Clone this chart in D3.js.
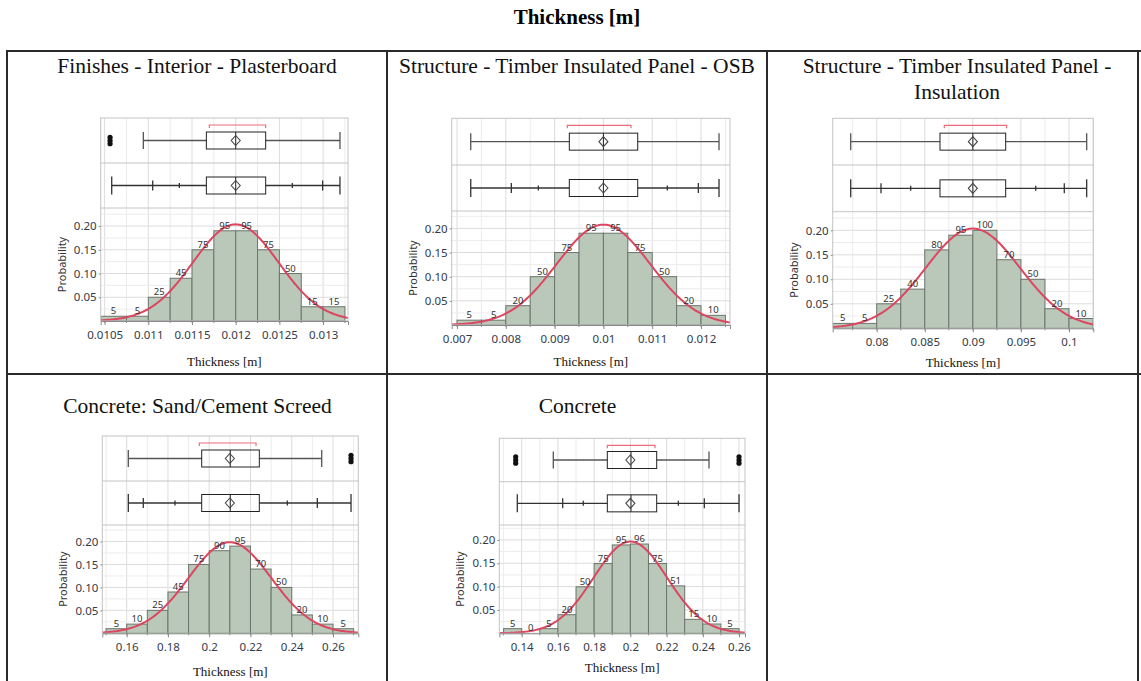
<!DOCTYPE html>
<html>
<head>
<meta charset="utf-8">
<script src="https://cdn.jsdelivr.net/npm/d3@7"></script>
<style>
  body { margin: 0; background: #fff; }
  svg { display: block; }
</style>
</head>
<body>
<div id="chart"></div>
<script>
/* Define svg-size. */
const width = 1141
const height = 681

/* Texts. */
const mainTitle = "Thickness [m]"
const panelTitles = [
  ["Finishes - Interior - Plasterboard"],
  ["Structure - Timber Insulated Panel - OSB"],
  ["Structure - Timber Insulated Panel -", "Insulation"],
  ["Concrete: Sand/Cement Screed"],
  ["Concrete"]
]
const xTitle = "Thickness [m]"
const yTitle = "Probability"

/* Histogram bins: edges and counts. */
const binEdges = [
  [0.01045, 0.01075, 0.011, 0.01125, 0.0115, 0.01175, 0.012, 0.01225, 0.0125, 0.01275, 0.013, 0.01325],
  [0.007, 0.0075, 0.008, 0.0085, 0.009, 0.0095, 0.01, 0.0105, 0.011, 0.0115, 0.012, 0.0125],
  [0.0754, 0.0775, 0.08, 0.0825, 0.085, 0.0875, 0.09, 0.0925, 0.095, 0.0975, 0.1, 0.1025],
  [0.15, 0.16, 0.17, 0.18, 0.19, 0.2, 0.21, 0.22, 0.23, 0.24, 0.25, 0.26, 0.27],
  [0.13, 0.14, 0.15, 0.16, 0.17, 0.18, 0.19, 0.2, 0.21, 0.22, 0.23, 0.24, 0.25, 0.26]
]
const binCounts = [
  [5, 5, 25, 45, 75, 95, 95, 75, 50, 15, 15],
  [5, 5, 20, 50, 75, 95, 95, 75, 50, 20, 10],
  [5, 5, 25, 40, 80, 95, 100, 70, 50, 20, 10],
  [5, 10, 25, 45, 75, 90, 95, 70, 50, 20, 10, 5],
  [5, 0, 5, 20, 50, 75, 95, 96, 75, 51, 15, 10, 5]
]

/* Normal fit per panel. */
const fitMean = [0.012, 0.01, 0.09, 0.21, 0.2]
const fitSd = [0.00049, 0.00096, 0.0049, 0.0201, 0.0203]
const binWidth = [0.00025, 0.0005, 0.0025, 0.01, 0.01]

/* Outlier box plot. */
const whiskerLow = [0.010943, 0.007281, 0.077296, 0.16078, 0.15745]
const quart1 = [0.011664, 0.009301, 0.086583, 0.19635, 0.18727]
const medians = [0.012, 0.01, 0.09, 0.2102, 0.20035]
const quart3 = [0.012343, 0.010703, 0.093416, 0.22428, 0.21454]
const whiskerHigh = [0.013193, 0.012369, 0.10184, 0.25453, 0.24342]
const outliers = [[0.010562], [], [], [0.26873], [0.13669, 0.26]]
const shortestHalf = [[0.011698, 0.012343], [0.00926, 0.010566], [0.08703, 0.09352], [0.19519, 0.22268], [0.18727, 0.21361]]

/* Quantile box plot: min, 2.5%, 10%, 90%, 97.5%, max. */
const quantiles = [
  [0.010581, 0.01105, 0.011355, 0.012648, 0.012995, 0.013193],
  [0.007281, 0.008113, 0.008666, 0.011309, 0.011945, 0.012369],
  [0.077296, 0.080447, 0.083536, 0.096537, 0.099511, 0.10184],
  [0.16078, 0.16805, 0.18341, 0.23785, 0.25239, 0.26873],
  [0.13757, 0.16264, 0.17401, 0.22647, 0.24083, 0.26]
]

/* Axes. */
const xDomains = [[0.010455, 0.013285], [0.006891, 0.012594], [0.075424, 0.102528], [0.14817, 0.27226], [0.12763, 0.2633]]
const xTickLabels = [
  ["0.0105", "0.011", "0.0115", "0.012", "0.0125", "0.013"],
  ["0.007", "0.008", "0.009", "0.01", "0.011", "0.012"],
  ["0.08", "0.085", "0.09", "0.095", "0.1"],
  ["0.16", "0.18", "0.2", "0.22", "0.24", "0.26"],
  ["0.14", "0.16", "0.18", "0.2", "0.22", "0.24", "0.26"]
]
const minorStep = [0.00025, 0.0005, 0.0025, 0.01, 0.01]
const yTickLabels = ["0.05", "0.10", "0.15", "0.20"]
const yMax = [0.238, 0.236, 0.238, 0.236, 0.232]

/* Layout of each panel frame (pixels). */
const layout = [
  { cx: 197, titleY: 73, left: 100.7, right: 348, top: 118, s1: 163, s2: 208, bottom: 321, xTitleY: 365.5 },
  { cx: 577, titleY: 73, left: 451.7, right: 730, top: 118.3, s1: 165, s2: 211, bottom: 325, xTitleY: 365.5 },
  { cx: 957, titleY: 73, left: 832.7, right: 1093.3, top: 118.3, s1: 165, s2: 211.7, bottom: 328.3, xTitleY: 367 },
  { cx: 197.5, titleY: 413, left: 102.3, right: 358.3, top: 436, s1: 481, s2: 525, bottom: 633.3, xTitleY: 675.5 },
  { cx: 577.5, titleY: 413, left: 499.3, right: 745, top: 438.3, s1: 481.7, s2: 525, bottom: 633.3, xTitleY: 671.5 }
]

const serif = "'Liberation Serif', 'Times New Roman', serif"
const sans = "'Noto Sans', 'Open Sans', sans-serif"
const labelColor = "#343a4a"

/* Create svg-element. */
const svg = d3.select("#chart")
  .append("svg")
  .attr("width", width)
  .attr("height", height)

svg.append("text")
  .attr("x", 577)
  .attr("y", 24)
  .attr("text-anchor", "middle")
  .attr("font-family", serif)
  .attr("font-weight", "bold")
  .attr("font-size", 21)
  .text(mainTitle)

/* Table grid. */
const table = svg.append("g")
  .attr("stroke", "#2a2a2a")
  .attr("stroke-width", 2)
table.append("line").attr("x1", 6).attr("x2", width).attr("y1", 51).attr("y2", 51)
table.append("line").attr("x1", 6).attr("x2", width).attr("y1", 374).attr("y2", 374)
;[7, 387, 767, 1138].forEach(cx => {
  table.append("line").attr("x1", cx).attr("x2", cx).attr("y1", 50).attr("y2", height)
})

/* Define drawPanel. */
const drawPanel = (i) => {
  const L = layout[i]
  const g = svg.append("g")

  const x = d3.scaleLinear().domain(xDomains[i]).range([L.left, L.right])
  const y = d3.scaleLinear().domain([0, yMax[i]]).range([L.bottom, L.s2])

  /* Title. */
  g.append("text")
    .attr("text-anchor", "middle")
    .attr("font-family", serif)
    .attr("font-size", 21.5)
    .attr("fill", "#111")
    .selectAll("tspan")
    .data(panelTitles[i])
    .enter()
    .append("tspan")
    .attr("x", L.cx)
    .attr("y", (d, k) => L.titleY + k * 26)
    .text(d => d)

  /* Grid lines. */
  const majors = xTickLabels[i].map(Number)
  const step = minorStep[i]
  const minors = d3.range(Math.ceil(xDomains[i][0] / step), Math.floor(xDomains[i][1] / step) + 1)
    .map(k => k * step)
  g.append("g")
    .selectAll("line")
    .data(minors)
    .enter()
    .append("line")
    .attr("x1", d => x(d))
    .attr("x2", d => x(d))
    .attr("y1", L.top)
    .attr("y2", L.bottom)
    .attr("stroke", d => majors.some(m => Math.abs(m - d) < step / 10) ? "#dcdcdc" : "#ececec")

  const yGrid = d3.range(1, Math.floor(yMax[i] / 0.025) + 1).map(k => k * 0.025)
  g.append("g")
    .selectAll("line")
    .data(yGrid)
    .enter()
    .append("line")
    .attr("x1", L.left)
    .attr("x2", L.right)
    .attr("y1", d => y(d))
    .attr("y2", d => y(d))
    .attr("stroke", (d, k) => k % 2 == 1 ? "#dcdcdc" : "#ececec")

  /* Clip for histogram. */
  const clipId = "clip" + i
  svg.append("clipPath")
    .attr("id", clipId)
    .append("rect")
    .attr("x", L.left)
    .attr("y", L.s2)
    .attr("width", L.right - L.left)
    .attr("height", L.bottom - L.s2)

  const total = d3.sum(binCounts[i])
  const bins = binCounts[i].map((c, k) => ({
    lo: Math.max(binEdges[i][k], xDomains[i][0]),
    hi: Math.min(binEdges[i][k + 1], xDomains[i][1]),
    count: c,
    prob: c / total
  }))

  const hist = g.append("g").attr("clip-path", `url(#${clipId})`)
  hist.selectAll("rect")
    .data(bins.filter(b => b.count > 0))
    .enter()
    .append("rect")
    .attr("x", d => x(d.lo))
    .attr("width", d => x(d.hi) - x(d.lo))
    .attr("y", d => y(d.prob))
    .attr("height", d => y(0) - y(d.prob))
    .attr("fill", "#b9c8b8")
    .attr("stroke", "#6c756c")
    .attr("stroke-width", 1)

  /* Normal curve. */
  const pdf = (v) => binWidth[i] / (fitSd[i] * Math.sqrt(2 * Math.PI)) *
    Math.exp(-0.5 * Math.pow((v - fitMean[i]) / fitSd[i], 2))
  const xs = d3.range(0, 201).map(k => xDomains[i][0] + (xDomains[i][1] - xDomains[i][0]) * k / 200)
  hist.append("path")
    .datum(xs)
    .attr("d", d3.line().x(d => x(d)).y(d => y(pdf(d))))
    .attr("fill", "none")
    .attr("stroke", "#dc4660")
    .attr("stroke-width", 2)

  /* Bar labels. */
  g.append("g")
    .selectAll("text")
    .data(bins)
    .enter()
    .append("text")
    .attr("x", d => (x(d.lo) + x(d.hi)) / 2)
    .attr("y", d => y(d.prob) - 2)
    .attr("text-anchor", "middle")
    .attr("font-family", sans)
    .attr("font-size", 9.5)
    .attr("fill", "#333")
    .text(d => d.count)

  /* Frame. */
  g.append("rect")
    .attr("x", L.left)
    .attr("y", L.top)
    .attr("width", L.right - L.left)
    .attr("height", L.bottom - L.top)
    .attr("fill", "none")
    .attr("stroke", "#c4c4c4")
  ;[L.s1, L.s2].forEach(sy => {
    g.append("line")
      .attr("x1", L.left).attr("x2", L.right)
      .attr("y1", sy).attr("y2", sy)
      .attr("stroke", "#c4c4c4")
  })

  /* Axes. */
  const xAxis = g.append("g")
    .attr("transform", `translate(0,${L.bottom})`)
    .call(d3.axisBottom(x).tickValues(majors).tickFormat((d, k) => xTickLabels[i][k]).tickSize(4).tickPadding(6))
  xAxis.select(".domain").attr("stroke", "#8a8a8a")
  xAxis.selectAll("line").attr("stroke", "#8a8a8a")
  xAxis.selectAll("text").attr("font-family", sans).attr("font-size", 11.5).attr("fill", labelColor)
  g.append("g")
    .selectAll("line")
    .data(minors)
    .enter()
    .append("line")
    .attr("x1", d => x(d)).attr("x2", d => x(d))
    .attr("y1", L.bottom).attr("y2", L.bottom + 2)
    .attr("stroke", "#8a8a8a")

  const yAxis = g.append("g")
    .attr("transform", `translate(${L.left},0)`)
    .call(d3.axisLeft(y).tickValues(yTickLabels.map(Number)).tickFormat((d, k) => yTickLabels[k]).tickSize(2).tickPadding(2))
  yAxis.select(".domain").remove()
  yAxis.selectAll("line").attr("stroke", "#8a8a8a")
  yAxis.selectAll("text").attr("font-family", sans).attr("font-size", 11.5).attr("fill", labelColor)

  g.append("text")
    .attr("transform", `translate(${L.left - 35},${(L.s2 + L.bottom) / 2}) rotate(-90)`)
    .attr("text-anchor", "middle")
    .attr("font-family", sans)
    .attr("font-size", 11)
    .attr("fill", "#333")
    .text(yTitle)

  g.append("text")
    .attr("x", (L.left + L.right) / 2)
    .attr("y", L.xTitleY)
    .attr("text-anchor", "middle")
    .attr("font-family", serif)
    .attr("font-size", 13)
    .attr("fill", "#111")
    .text(xTitle)

  /* Outlier box plot. */
  const c1 = (L.top + L.s1) / 2
  const hb = 8.5
  const b1 = g.append("g").attr("fill", "none")
  b1.append("line")
    .attr("x1", x(whiskerLow[i])).attr("x2", x(quart1[i]))
    .attr("y1", c1).attr("y2", c1)
    .attr("stroke", "#555").attr("stroke-width", 1.3)
  b1.append("line")
    .attr("x1", x(quart3[i])).attr("x2", x(whiskerHigh[i]))
    .attr("y1", c1).attr("y2", c1)
    .attr("stroke", "#555").attr("stroke-width", 1.3)
  ;[whiskerLow[i], whiskerHigh[i]].forEach(v => {
    b1.append("line")
      .attr("x1", x(v)).attr("x2", x(v))
      .attr("y1", c1 - hb).attr("y2", c1 + hb)
      .attr("stroke", "#555").attr("stroke-width", 1.3)
  })
  b1.append("rect")
    .attr("x", x(quart1[i])).attr("width", x(quart3[i]) - x(quart1[i]))
    .attr("y", c1 - hb).attr("height", 2 * hb)
    .attr("stroke", "#222")
  b1.append("line")
    .attr("x1", x(medians[i])).attr("x2", x(medians[i]))
    .attr("y1", c1 - hb).attr("y2", c1 + hb)
    .attr("stroke", "#222")
  b1.append("path")
    .attr("d", `M${x(fitMean[i])},${c1 - 5}l4.5,5l-4.5,5l-4.5,-5z`)
    .attr("stroke", "#444").attr("stroke-width", 1.1)
  const sh = shortestHalf[i]
  b1.append("path")
    .attr("d", `M${x(sh[0])},${L.top + 10}v-3H${x(sh[1])}v3`)
    .attr("stroke", "#ee6b7c").attr("stroke-width", 1.2)
  outliers[i].forEach(v => {
    b1.selectAll(null)
      .data([-3.2, 0, 3.2])
      .enter()
      .append("circle")
      .attr("cx", x(v)).attr("cy", d => c1 + d)
      .attr("r", 2.6)
      .attr("fill", "#111")
  })

  /* Quantile box plot. */
  const c2 = (L.s1 + L.s2) / 2
  const q = quantiles[i]
  const b2 = g.append("g").attr("fill", "none")
  b2.append("line")
    .attr("x1", x(q[0])).attr("x2", x(quart1[i]))
    .attr("y1", c2).attr("y2", c2)
    .attr("stroke", "#333").attr("stroke-width", 1.3)
  b2.append("line")
    .attr("x1", x(quart3[i])).attr("x2", x(q[5]))
    .attr("y1", c2).attr("y2", c2)
    .attr("stroke", "#333").attr("stroke-width", 1.3)
  const tickHalf = [hb + 0.5, 5, 2.5, 2.5, 5, hb + 0.5]
  q.forEach((v, k) => {
    b2.append("line")
      .attr("x1", x(v)).attr("x2", x(v))
      .attr("y1", c2 - tickHalf[k]).attr("y2", c2 + tickHalf[k])
      .attr("stroke", "#333").attr("stroke-width", 1.3)
  })
  b2.append("rect")
    .attr("x", x(quart1[i])).attr("width", x(quart3[i]) - x(quart1[i]))
    .attr("y", c2 - hb).attr("height", 2 * hb)
    .attr("stroke", "#222")
  b2.append("line")
    .attr("x1", x(medians[i])).attr("x2", x(medians[i]))
    .attr("y1", c2 - hb).attr("y2", c2 + hb)
    .attr("stroke", "#222")
  b2.append("path")
    .attr("d", `M${x(fitMean[i])},${c2 - 5}l4.5,5l-4.5,5l-4.5,-5z`)
    .attr("stroke", "#444").attr("stroke-width", 1.1)
}

/* Draw all panels. */
panelTitles.forEach((t, i) => drawPanel(i))
</script>
</body>
</html>
